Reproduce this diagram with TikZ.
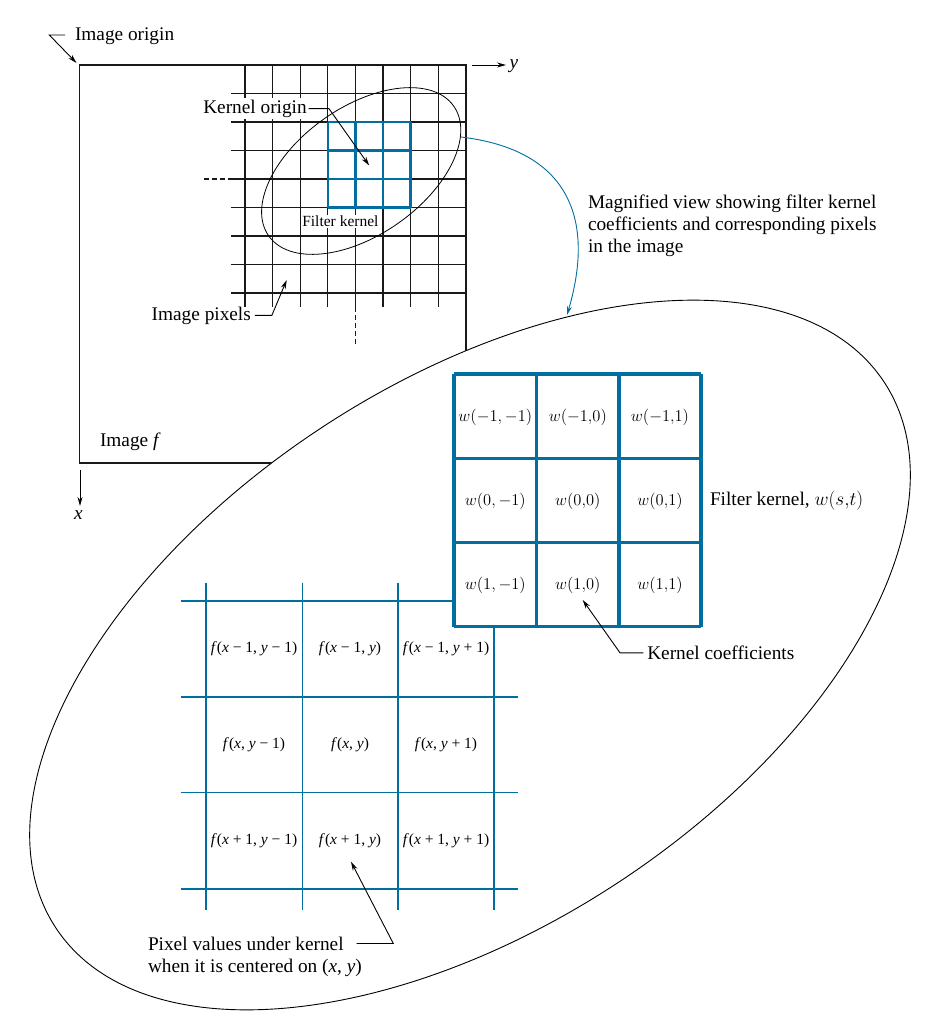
\RequirePackage{fix-cm}
\documentclass[tikz,border=0pt]{standalone}
\usepackage[no-math]{fontspec}
\setmainfont{Liberation Serif}
\usetikzlibrary{arrows.meta}
\definecolor{kblue}{RGB}{0,110,160}
\newcommand\mainsz{\fontsize{19.3pt}{22pt}\selectfont}
\newcommand\smallsz{\fontsize{15.5pt}{18pt}\selectfont}
\newcommand\cellsz{\fontsize{15.5pt}{18pt}\selectfont}
\newcommand\wsz{\fontsize{16.5pt}{19pt}\selectfont}
\begin{document}
\begin{tikzpicture}[x=1pt,y=-1pt,
  lbl/.style={inner sep=0pt, outer sep=0pt, font=\mainsz},
  gridline/.style={line width=1.1pt, black!90},
  arr/.style={line width=0.9pt, -{Stealth[length=9pt,width=5pt]}},
  barr/.style={line width=0.9pt, kblue, -{Stealth[length=9pt,width=5pt]}},
  fgrid/.style={line width=1.2pt, kblue},
  kgrid/.style={line width=3.4pt, kblue},
  flab/.style={font=\cellsz, inner sep=0pt},
  wlab/.style={font=\wsz, inner sep=0pt}]
\useasboundingbox (0,0) rectangle (952,1035);

% ---------------- image and pixel grid ----------------
\draw[gridline] (79.5,65) rectangle (466,463);
\foreach \x in {245,272.6,300.2,327.8,355.4,383,410.6,438.2}
  \draw[gridline] (\x,65) -- (\x,306.7);
\foreach \y in {93.5,122,150.5,179,207.5,236,264.5,293}
  \draw[gridline] (231,\y) -- (466,\y);
\draw[gridline, dash pattern=on 5pt off 3pt] (204,179) -- (231,179);
\draw[gridline, dash pattern=on 5pt off 3pt] (355.4,306.7) -- (355.4,345);

% small filter kernel on the image
\foreach \x in {327.8,355.4,383,410.6}
  \draw[kblue, line width=2.4pt] (\x,122) -- (\x,207.5);
\foreach \y in {122,150.5,179,207.5}
  \draw[kblue, line width=2.4pt] (327.8,\y) -- (410.6,\y);

% labels on the image
\node[lbl, fill=white, inner sep=2pt, anchor=base west] (ko) at (201.3,113.3) {Kernel origin};
\node[lbl, font=\smallsz, fill=white, inner sep=1pt, anchor=base west] (fk) at (301.3,226.7) {Filter kernel};

% small ellipse
\draw[line width=0.8pt, rotate around={35:(361.2,171)}] (361.2,171) ellipse [x radius=113pt, y radius=64pt];
\coordinate (sm-right) at (461,137);

\coordinate (ko-bend) at (329,0);
\coordinate (ko-tip) at (369.2,165.5);
\draw[arr] (ko.east) -- (ko.east -| ko-bend) -- (ko-tip);

\node[lbl, anchor=base west] (ip) at (151.7,320) {Image pixels};
\coordinate (ip-tip) at (286.7,280);
\draw[arr] ([xshift=4pt]ip.east) -- ++(17,0) -- (ip-tip);

\node[lbl, anchor=base west] (io) at (75,40.5) {Image origin};
\coordinate (io-start) at (65,35);
\coordinate (io-bend) at (49.3,35);
\coordinate (io-tip) at (76.5,63);
\draw[arr] (io-start) -- (io-bend) -- (io-tip);

% axes
\coordinate (y-start) at (472,65);
\coordinate (y-tip) at (506,65);
\draw[arr] (y-start) -- (y-tip);
\node[lbl, anchor=base] (ylab) at (514,68.5) {\textit{y}};
\coordinate (x-start) at (80,470);
\coordinate (x-tip) at (80,506);
\draw[arr] (x-start) -- (x-tip);
\node[lbl, anchor=base] (xlab) at (78.3,519) {\textit{x}};
\node[lbl, anchor=base west] (imf) at (100,446) {Image \textit{f}};

% ---------------- magnified view ----------------
\draw[line width=0.9pt, fill=white, rotate around={33.4:(470,655)}] (470,655) ellipse [x radius=496pt, y radius=271.5pt];
\coordinate (big-top) at (567,315);

\draw[barr] (sm-right) .. controls (570,150) and (595,220) .. (big-top);
\node[lbl, anchor=north west, align=left] (mag) at (588,195)
  {Magnified view showing filter kernel\\coefficients and corresponding pixels\\in the image};

% pixel grid (blue)
\foreach \x in {206,302.3,398,494}
  \draw[fgrid] (\x,582.7) -- (\x,910);
\foreach \y in {601,697,792.7,889}
  \draw[fgrid] (180.7,\y) -- (517.7,\y);

\node[flab] (f11) at (254,649) {\textit{f}(\textit{x} − 1, \textit{y} − 1)};
\node[flab] (f12) at (350,649) {\textit{f}(\textit{x} − 1, \textit{y})};
\node[flab] (f13) at (446,649) {\textit{f}(\textit{x} − 1, \textit{y} + 1)};
\node[flab] (f21) at (254,745) {\textit{f}(\textit{x}, \textit{y} − 1)};
\node[flab] (f22) at (350,745) {\textit{f}(\textit{x}, \textit{y})};
\node[flab] (f23) at (446,745) {\textit{f}(\textit{x}, \textit{y} + 1)};
\node[flab] (f31) at (254,841) {\textit{f}(\textit{x} + 1, \textit{y} − 1)};
\node[flab] (f32) at (350,841) {\textit{f}(\textit{x} + 1, \textit{y})};
\node[flab] (f33) at (446,841) {\textit{f}(\textit{x} + 1, \textit{y} + 1)};

% filter kernel (big)
\fill[white] (454,374) rectangle (701,626.7);
\foreach \x in {454,536.7,619,701}
  \draw[kgrid] (\x,374) -- (\x,626.7);
\foreach \y in {374,458.7,542.7,626.7}
  \draw[kgrid] (454,\y) -- (701,\y);

\node[wlab] (w11) at (495.3,417) {$w(-1,-1)$};
\node[wlab] (w12) at (577.8,417) {$w(-1{,}0)$};
\node[wlab] (w13) at (660,417) {$w(-1{,}1)$};
\node[wlab] (w21) at (495.3,501) {$w(0,-1)$};
\node[wlab] (w22) at (577.8,501) {$w(0{,}0)$};
\node[wlab] (w23) at (660,501) {$w(0{,}1)$};
\node[wlab] (w31) at (495.3,585) {$w(1,-1)$};
\node[wlab] (w32) at (577.8,585) {$w(1{,}0)$};
\node[wlab] (w33) at (660,585) {$w(1{,}1)$};

\node[lbl, anchor=base west] (fkw) at (710,505.7) {Filter kernel, $w(s{,}t)$};

\node[lbl, anchor=base west] (kc) at (647.3,659.5) {Kernel coefficients};
\coordinate (kc-tip) at (582.7,600);
\draw[arr] ([xshift=-4pt]kc.west) -- ++(-23.3,0) -- (kc-tip);

\node[lbl, anchor=north west, align=left] (pv) at (148,937)
  {Pixel values under kernel\\when it is centered on (\textit{x}, \textit{y})};
\coordinate (pv-start) at (356.7,943.5);
\coordinate (pv-bend) at (393.3,943.5);
\coordinate (pv-tip) at (351,861.7);
\draw[arr] (pv-start) -- (pv-bend) -- (pv-tip);
\end{tikzpicture}
\end{document}
